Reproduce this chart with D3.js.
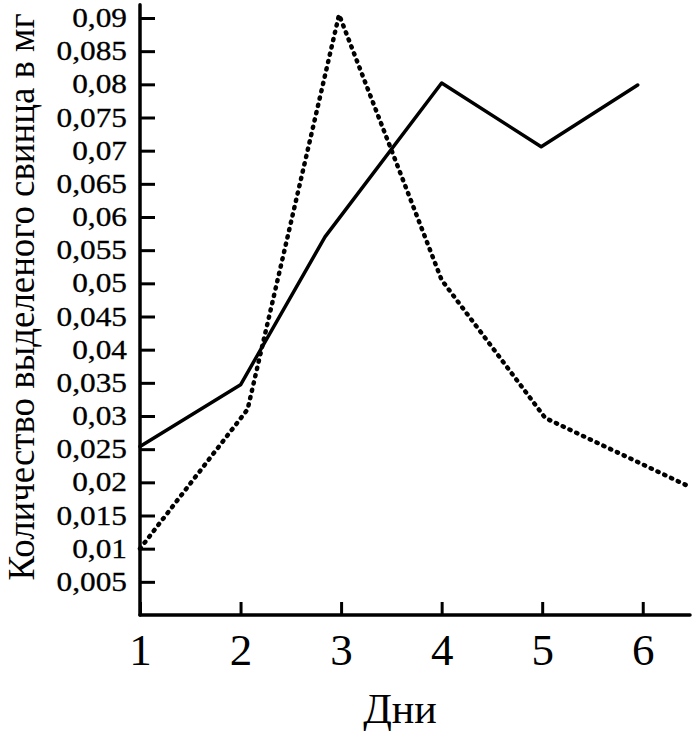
<!DOCTYPE html>
<html>
<head>
	<meta charset="utf-8">
	<title>Свинец по дням</title>
	<style type="text/css">
		body {
			margin: 0;
			background: white;
		}
		text {
			font-family: "Liberation Serif", "Times New Roman", Tinos, Times, serif;
			fill: black;
		}
	</style>
</head>
<body>
<svg id="chart"></svg>

<script type="text/javascript" src="https://d3js.org/d3.v7.min.js"></script>
<script type="text/javascript">

	// days on the x axis
	var days = [1, 2, 3, 4, 5, 6];
	// y tick values
	var yTicks = [0.005, 0.01, 0.015, 0.02, 0.025, 0.03, 0.035, 0.04, 0.045,
		0.05, 0.055, 0.06, 0.065, 0.07, 0.075, 0.08, 0.085, 0.09];

	// solid series (x read off the picture, not always on a whole day)
	var solidX = [1, 2, 2.84, 4, 4.99, 5.95];
	var solidY = [0.0254, 0.0347, 0.057, 0.0802, 0.0706, 0.0799];

	// dotted series
	var dottedX = [1, 2.07, 2.98, 4, 5.03, 6.47];
	var dottedY = [0.0100, 0.031, 0.0905, 0.0505, 0.0297, 0.0193];

	var yTitle = "Количество выделеного свинца в мг";
	var xTitle = "Дни";

	var serif = "'Liberation Serif', 'Times New Roman', Tinos, Times, serif";

	var width = 695,
		height = 731;

	var svg = d3.select("#chart")
		.attr("width", width)
		.attr("height", height);

	var x = d3.scaleLinear()
		.domain([1, 6.47])
		.range([140, 690]);

	var y = d3.scaleLinear()
		.domain([0, 0.09])
		.range([615, 18]);

	var fmt = d => d3.format(".3~f")(d).replace(".", ",");

	// y axis, ticks pointing inside
	var yAxis = svg.append("g")
		.attr("transform", "translate(" + x(1) + ",0)")
		.call(d3.axisLeft(y).tickValues(yTicks).tickSize(-15).tickPadding(13).tickFormat(fmt));
	yAxis.attr("font-family", null);
	yAxis.select(".domain").remove();
	yAxis.selectAll(".tick line").attr("stroke", "black").attr("stroke-width", 3);
	yAxis.selectAll(".tick text")
		.style("font-family", serif)
		.style("font-size", "27px")
		.attr("fill", "black")
		.attr("stroke", "black")
		.attr("stroke-width", 0.3)
		.each(function() {
			var l = this.getComputedTextLength();
			d3.select(this).attr("textLength", l * 1.16).attr("lengthAdjust", "spacingAndGlyphs");
		});

	svg.append("line")
		.attr("x1", x(1)).attr("x2", x(1))
		.attr("y1", y(0.092)).attr("y2", y(0))
		.attr("stroke", "black")
		.attr("stroke-width", 3.5)
		.attr("stroke-linecap", "round");

	// x axis, ticks pointing up
	var xAxis = svg.append("g")
		.attr("transform", "translate(0," + y(0) + ")")
		.call(d3.axisBottom(x).tickValues(days).tickSize(-13).tickPadding(18).tickFormat(d3.format("d")));
	xAxis.attr("font-family", null);
	xAxis.select(".domain").remove();
	xAxis.selectAll(".tick line").attr("stroke", "black").attr("stroke-width", 3);
	xAxis.selectAll(".tick text")
		.style("font-family", serif)
		.style("font-size", "45px")
		.attr("fill", "black");

	svg.append("line")
		.attr("x1", x(1)).attr("x2", x(6.47))
		.attr("y1", y(0)).attr("y2", y(0))
		.attr("stroke", "black")
		.attr("stroke-width", 3.5)
		.attr("stroke-linecap", "round");

	var line = d3.line()
		.x(d => x(d[0]))
		.y(d => y(d[1]));

	svg.append("path")
		.datum(d3.zip(solidX, solidY))
		.attr("d", line)
		.attr("fill", "none")
		.attr("stroke", "black")
		.attr("stroke-width", 3.5)
		.attr("stroke-linejoin", "round")
		.attr("stroke-linecap", "round");

	svg.append("path")
		.datum(d3.zip(dottedX, dottedY))
		.attr("d", line)
		.attr("fill", "none")
		.attr("stroke", "black")
		.attr("stroke-width", 4.5)
		.attr("stroke-dasharray", "1.2,6.3")
		.attr("stroke-linecap", "round");

	// titles
	svg.append("text")
		.attr("transform", "translate(34,297) rotate(-90)")
		.attr("text-anchor", "middle")
		.attr("textLength", 567)
		.attr("lengthAdjust", "spacingAndGlyphs")
		.style("font-family", serif)
		.style("font-size", "37px")
		.text(yTitle);

	svg.append("text")
		.attr("x", 400)
		.attr("y", 723)
		.attr("text-anchor", "middle")
		.style("font-family", serif)
		.style("font-size", "42px")
		.text(xTitle);

</script>
</body>
</html>
